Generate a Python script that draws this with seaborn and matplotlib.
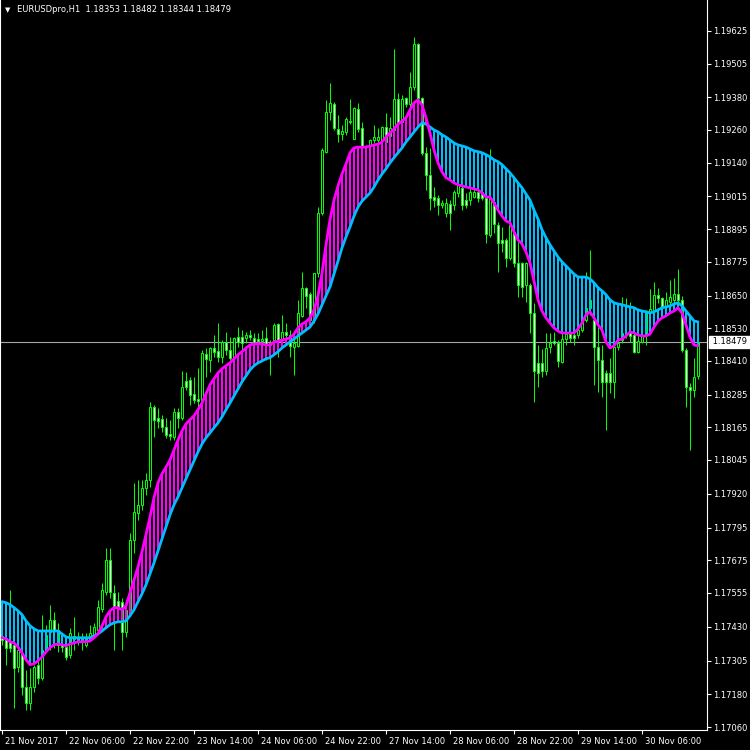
import numpy as np
import pandas as pd
import matplotlib
matplotlib.use("Agg")
import matplotlib.pyplot as plt
import matplotlib.transforms as mtransforms
import seaborn as sns

# EURUSD H1 bars, prices in points (1e-5)
opens = [117396, 117389, 117374, 117363, 117282, 117333, 117208, 117149, 117208, 117290,
         117242, 117352, 117411, 117455, 117418, 117363, 117355, 117326, 117385, 117389,
         117381, 117363, 117389, 117400, 117418, 117496, 117559, 117676, 117555, 117525,
         117522, 117411, 117492, 117750, 117849, 117879, 117942, 117971, 118239, 118199,
         118196, 118166, 118140, 118129, 118221, 118199, 118335, 118339, 118287, 118269,
         118265, 118435, 118413, 118457, 118446, 118424, 118479, 118450, 118421, 118497,
         118497, 118494, 118505, 118494, 118490, 118482, 118494, 118468, 118486, 118545,
         118486, 118516, 118505, 118461, 118464, 118575, 118679, 118656, 118560, 118733,
         118954, 119180, 119327, 119356, 119264, 119245, 119253, 119293, 119227, 119337,
         119268, 119201, 119201, 119223, 119223, 119223, 119271, 119238, 119260, 119375,
         119290, 119378, 119356, 119418, 119577, 119378, 119176, 119095, 119013, 119010,
         118984, 118954, 118987, 118984, 119028, 119047, 119002, 119002, 119013, 119032,
         119032, 119010, 118873, 118995, 118910, 118855, 118855, 118789, 118885, 118770,
         118770, 118689, 118689, 118586, 118402, 118402, 118372, 118461, 118482, 118475,
         118406, 118490, 118508, 118505, 118505, 118523, 118560, 118605, 118560, 118461,
         118413, 118365, 118365, 118332, 118461, 118486, 118512, 118512, 118505, 118443,
         118479, 118505, 118590, 118597, 118653, 118642, 118612, 118627, 118634, 118656,
         118634, 118450, 118313, 118302, 118353]
highs = [117426, 117396, 117566, 117381, 117363, 117381, 117271, 117279, 117290, 117326,
         117474, 117437, 117511, 117485, 117444, 117381, 117374, 117426, 117466, 117411,
         117407, 117407, 117437, 117444, 117529, 117591, 117720, 117720, 117584, 117559,
         117536, 117529, 117776, 117960, 117971, 117971, 117997, 118258, 118247, 118236,
         118210, 118199, 118192, 118236, 118236, 118372, 118369, 118350, 118350, 118383,
         118450, 118457, 118461, 118505, 118549, 118486, 118516, 118497, 118497, 118534,
         118523, 118516, 118523, 118512, 118512, 118523, 118534, 118486, 118549, 118549,
         118579, 118549, 118523, 118512, 118634, 118737, 118682, 118664, 118733, 118976,
         119194, 119371, 119433, 119364, 119316, 119279, 119308, 119374, 119345, 119360,
         119290, 119205, 119227, 119279, 119268, 119275, 119323, 119308, 119559, 119397,
         119390, 119382, 119474, 119603, 119581, 119382, 119197, 119194, 119050, 119021,
         119002, 119010, 119002, 119039, 119076, 119065, 119028, 119050, 119050, 119039,
         119039, 119017, 119190, 119010, 118921, 118903, 118863, 118918, 118892, 118848,
         118774, 118774, 118697, 118623, 118468, 118453, 118512, 118512, 118516, 118486,
         118516, 118516, 118516, 118523, 118534, 118590, 118737, 118818, 118597, 118534,
         118468, 118376, 118421, 118468, 118486, 118645, 118642, 118627, 118516, 118512,
         118516, 118597, 118674, 118700, 118679, 118645, 118664, 118708, 118715, 118748,
         118649, 118457, 118328, 118421, 118482]
lows = [117363, 117290, 117337, 117131, 117264, 117179, 117123, 117123, 117190, 117219,
        117234, 117344, 117344, 117352, 117337, 117337, 117308, 117315, 117344, 117363,
        117344, 117355, 117381, 117389, 117411, 117485, 117548, 117536, 117344, 117474,
        117344, 117392, 117474, 117702, 117823, 117860, 117916, 117945, 118129, 118163,
        118148, 118126, 118118, 118118, 118163, 118192, 118302, 118247, 118254, 118229,
        118229, 118350, 118369, 118424, 118406, 118402, 118432, 118413, 118402, 118461,
        118450, 118475, 118486, 118450, 118461, 118450, 118413, 118358, 118450, 118424,
        118479, 118486, 118424, 118358, 118461, 118571, 118605, 118534, 118549, 118718,
        118947, 119176, 119297, 119260, 119216, 119223, 119242, 119282, 119227, 119253,
        119197, 119187, 119197, 119212, 119212, 119216, 119205, 119223, 119253, 119271,
        119279, 119345, 119345, 119408, 119371, 119169, 119039, 118965, 118976, 118947,
        118973, 118940, 118892, 118965, 119013, 118965, 118973, 118984, 119010, 118995,
        119002, 118844, 118866, 118881, 118737, 118811, 118755, 118781, 118755, 118645,
        118645, 118626, 118512, 118258, 118313, 118350, 118358, 118439, 118468, 118387,
        118402, 118468, 118479, 118468, 118494, 118516, 118553, 118579, 118321, 118295,
        118276, 118155, 118291, 118273, 118450, 118475, 118494, 118479, 118439, 118439,
        118475, 118468, 118586, 118590, 118623, 118597, 118605, 118590, 118608, 118616,
        118443, 118239, 118081, 118276, 118344]
closes = [117381, 117352, 117352, 117279, 117344, 117208, 117149, 117208, 117282, 117242,
          117344, 117400, 117455, 117418, 117363, 117355, 117318, 117407, 117396, 117381,
          117389, 117392, 117407, 117429, 117503, 117566, 117676, 117559, 117503, 117500,
          117411, 117492, 117750, 117853, 117879, 117942, 117971, 118239, 118192, 118188,
          118166, 118137, 118133, 118221, 118199, 118313, 118313, 118284, 118265, 118261,
          118439, 118417, 118457, 118443, 118424, 118479, 118450, 118421, 118494, 118479,
          118475, 118505, 118497, 118475, 118482, 118490, 118468, 118475, 118542, 118486,
          118516, 118505, 118464, 118475, 118586, 118679, 118649, 118560, 118733, 118954,
          119187, 119327, 119360, 119268, 119245, 119256, 119301, 119290, 119341, 119264,
          119197, 119197, 119223, 119234, 119234, 119271, 119216, 119268, 119375, 119290,
          119375, 119356, 119418, 119577, 119378, 119176, 119095, 119010, 119002, 118984,
          118991, 118991, 118954, 119032, 119058, 118984, 118984, 119032, 119032, 119010,
          119010, 118877, 119010, 118914, 118844, 118844, 118789, 118910, 118770, 118689,
          118682, 118770, 118586, 118372, 118365, 118372, 118457, 118475, 118475, 118409,
          118490, 118508, 118494, 118494, 118523, 118560, 118605, 118634, 118461, 118413,
          118332, 118332, 118332, 118461, 118475, 118512, 118505, 118501, 118443, 118482,
          118505, 118590, 118601, 118653, 118642, 118608, 118634, 118645, 118656, 118634,
          118450, 118313, 118302, 118350, 118479]
ma_slow = [117522, 117518, 117511, 117500, 117488, 117474, 117451, 117433, 117422, 117414,
           117414, 117414, 117414, 117414, 117414, 117403, 117392, 117389, 117389, 117389,
           117389, 117389, 117389, 117396, 117403, 117414, 117426, 117437, 117444, 117448,
           117448, 117451, 117470, 117492, 117522, 117551, 117584, 117624, 117665, 117709,
           117754, 117797, 117842, 117879, 117908, 117942, 117975, 118008, 118040, 118074,
           118103, 118126, 118144, 118163, 118181, 118203, 118229, 118254, 118280, 118306,
           118332, 118354, 118376, 118391, 118402, 118409, 118417, 118421, 118432, 118443,
           118457, 118468, 118479, 118490, 118501, 118512, 118523, 118534, 118556, 118582,
           118616, 118649, 118682, 118729, 118777, 118826, 118866, 118903, 118943, 118976,
           118998, 119013, 119028, 119050, 119076, 119098, 119117, 119139, 119158, 119176,
           119194, 119216, 119234, 119253, 119271, 119286, 119282, 119271, 119260, 119253,
           119242, 119234, 119223, 119212, 119205, 119201, 119197, 119190, 119183, 119180,
           119176, 119169, 119161, 119150, 119143, 119132, 119117, 119102, 119084, 119065,
           119047, 119024, 119002, 118965, 118932, 118892, 118863, 118837, 118814, 118792,
           118774, 118759, 118744, 118729, 118718, 118718, 118718, 118711, 118697, 118679,
           118667, 118653, 118634, 118623, 118619, 118616, 118612, 118608, 118605, 118597,
           118593, 118590, 118586, 118590, 118597, 118605, 118608, 118612, 118619, 118623,
           118612, 118593, 118575, 118556, 118553]
ma_fast = [117389, 117385, 117374, 117370, 117355, 117333, 117308, 117290, 117293, 117304,
           117318, 117337, 117352, 117363, 117366, 117363, 117359, 117366, 117370, 117374,
           117374, 117374, 117377, 117389, 117403, 117433, 117466, 117488, 117500, 117500,
           117492, 117507, 117555, 117602, 117650, 117706, 117769, 117834, 117905, 117960,
           117993, 118018, 118044, 118081, 118118, 118151, 118177, 118192, 118207, 118229,
           118254, 118287, 118321, 118343, 118365, 118380, 118391, 118402, 118417, 118432,
           118443, 118457, 118468, 118472, 118472, 118472, 118468, 118468, 118479, 118482,
           118486, 118490, 118494, 118508, 118531, 118545, 118553, 118568, 118597, 118649,
           118733, 118837, 118929, 119002, 119054, 119098, 119135, 119176, 119194, 119197,
           119197, 119197, 119201, 119205, 119208, 119216, 119234, 119249, 119264, 119282,
           119293, 119305, 119334, 119360, 119371, 119353, 119305, 119249, 119187, 119139,
           119106, 119084, 119076, 119065, 119058, 119054, 119050, 119047, 119043, 119039,
           119028, 119013, 119013, 118991, 118965, 118943, 118925, 118918, 118885, 118855,
           118840, 118811, 118770, 118704, 118634, 118593, 118568, 118549, 118531, 118519,
           118512, 118512, 118512, 118512, 118527, 118549, 118579, 118590, 118568, 118542,
           118523, 118479, 118457, 118464, 118486, 118490, 118501, 118516, 118512, 118505,
           118501, 118501, 118508, 118534, 118556, 118568, 118575, 118586, 118593, 118605,
           118586, 118542, 118497, 118468, 118464]

time_ticks = [0, 16, 32, 48, 64, 80, 96, 112, 128, 144, 160]
time_labels = ['21 Nov 2017', '22 Nov 06:00', '22 Nov 22:00', '23 Nov 14:00',
               '24 Nov 06:00', '24 Nov 22:00', '27 Nov 14:00', '28 Nov 06:00',
               '28 Nov 22:00', '29 Nov 14:00', '30 Nov 06:00']
price_ticks = [1.19625, 1.19505, 1.19380, 1.19260, 1.19140, 1.19015, 1.18895, 1.18775,
               1.18650, 1.18530, 1.18410, 1.18285, 1.18165, 1.18045, 1.17920, 1.17795,
               1.17675, 1.17555, 1.17430, 1.17305, 1.17180, 1.17060]
bid = 1.18479
title = 'EURUSDpro,H1  1.18353 1.18482 1.18344 1.18479'

df = pd.DataFrame({'open': opens, 'high': highs, 'low': lows, 'close': closes,
                   'ma_fast': ma_fast, 'ma_slow': ma_slow}) / 1e5
df['bar'] = np.arange(len(df))

sns.set_theme(style="ticks", rc={
    'figure.facecolor': 'black', 'axes.facecolor': 'black',
    'axes.edgecolor': 'white', 'xtick.color': 'white', 'ytick.color': 'white',
    'text.color': 'white', 'axes.linewidth': 0.8,
})
plt.rcParams['font.family'] = ['DejaVu Sans']

fig = plt.figure(figsize=(7.5, 7.5), dpi=100)
ax = fig.add_axes([0, 20 / 750, 707 / 750, 730 / 750])

green = '#00FF00'
# candles: wicks then bodies (white = bearish, black = bullish)
ax.vlines(df['bar'], df['low'], df['high'], color=green, linewidth=0.72, zorder=2)
bear = df['close'] < df['open']
body_lo = df[['open', 'close']].min(axis=1)
body_h = (df['close'] - df['open']).abs()
ax.bar(df['bar'], body_h, bottom=body_lo, width=0.5,
       color=np.where(bear, 'white', 'black'), edgecolor=green, linewidth=0.72, zorder=3)

# histogram between the two averages
up = df['ma_fast'] >= df['ma_slow']
hist_lo = df[['ma_fast', 'ma_slow']].min(axis=1)
hist_h = (df['ma_fast'] - df['ma_slow']).abs()
ax.bar(df['bar'], hist_h, bottom=hist_lo, width=0.72, linewidth=0, antialiased=False,
       color=np.where(up, '#FF00FF', '#00BFFF'), zorder=4)

sns.lineplot(data=df, x='bar', y='ma_slow', color='#00BFFF', linewidth=2.0,
             estimator=None, ax=ax, zorder=5)
sns.lineplot(data=df, x='bar', y='ma_fast', color='#FF00FF', linewidth=2.0,
             estimator=None, ax=ax, zorder=6)

# bid line
ax.axhline(bid, color='#A8A8A8', linewidth=0.8, zorder=1.5)

ax.set_xlim(-0.5, 176.25)
ax.set_ylim(1.17049, 1.19739)
ax.set_xlabel('')
ax.set_ylabel('')

ax.spines['top'].set_visible(False)
ax.yaxis.tick_right()
ax.set_yticks(price_ticks)
ax.set_yticklabels([f'{p:.5f}' for p in price_ticks])
ax.set_xticks(time_ticks)
ax.set_xticklabels(time_labels)
ax.tick_params(axis='both', direction='out', length=3, width=0.8, labelsize=6)
ax.tick_params(axis='y', pad=1.5)
ax.tick_params(axis='x', pad=2)
offset = mtransforms.ScaledTranslation(0.03, 0, fig.dpi_scale_trans)
for lab in ax.get_xticklabels():
    lab.set_horizontalalignment('left')
    lab.set_transform(lab.get_transform() + offset)

# bid price label box
trans = mtransforms.blended_transform_factory(ax.transAxes, ax.transData)
ax.text(1.0, bid, ' 1.18479 ', transform=trans + mtransforms.ScaledTranslation(0.03, 0, fig.dpi_scale_trans),
        color='black', fontsize=6, va='center', ha='left', clip_on=False,
        bbox=dict(boxstyle='square,pad=0.15', facecolor='white', edgecolor='white'))

# header
fig.text(5 / 750, 1 - 10 / 750, '\u25BC', fontsize=5, color='white', va='center', ha='left')
fig.text(17 / 750, 1 - 10 / 750, title, fontsize=6, color='white', va='center', ha='left')

fig.savefig('out.png', dpi=100, facecolor='black')
